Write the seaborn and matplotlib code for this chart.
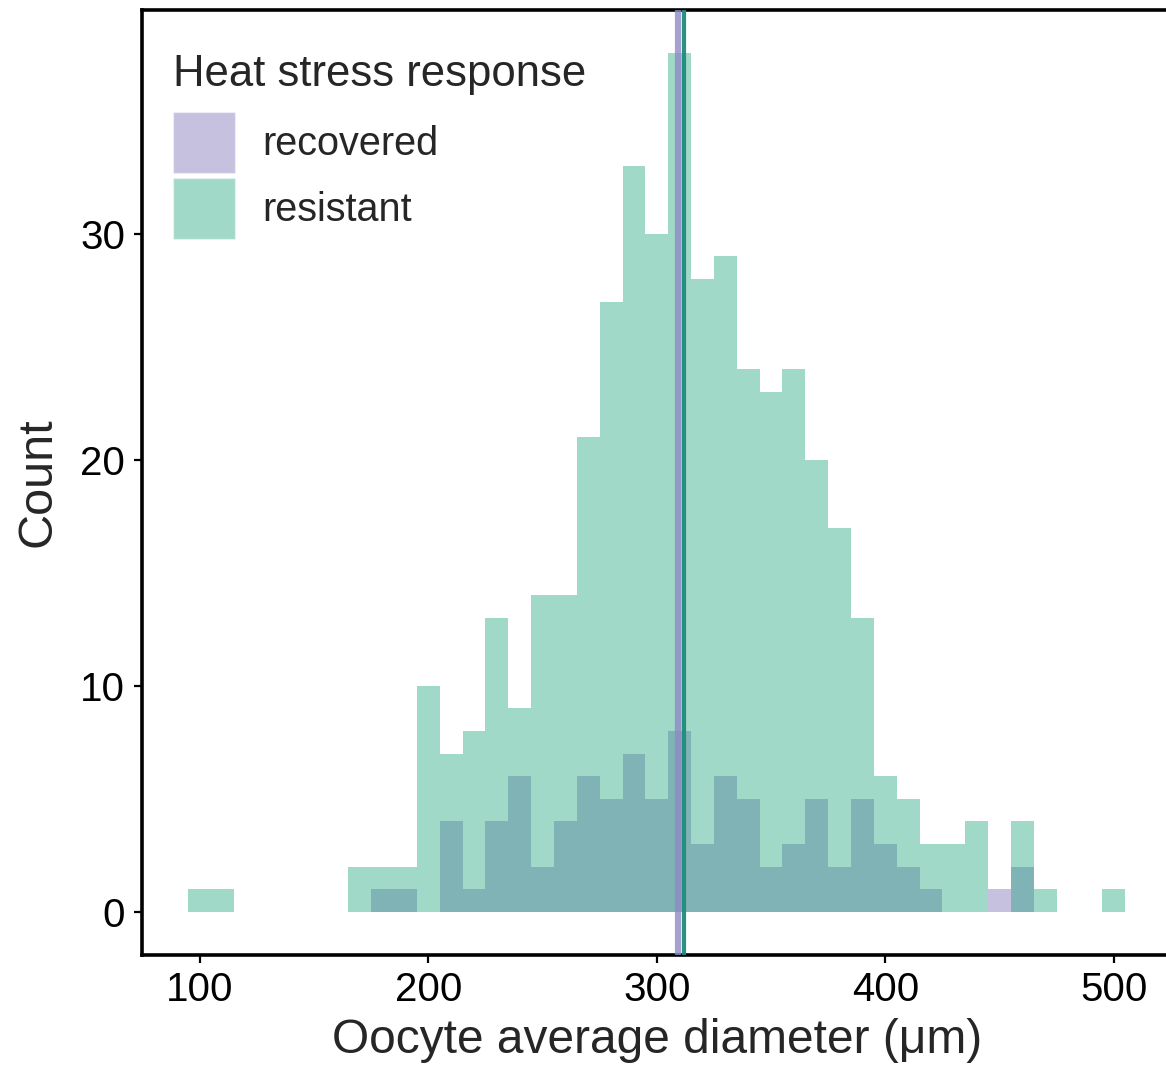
import numpy as np
import pandas as pd
import matplotlib
matplotlib.use("Agg")
import matplotlib.pyplot as plt
import seaborn as sns
from matplotlib.patches import Patch

# Bin centres in µm (bin width 10)
bin_centers = list(range(100, 510, 10))
resistant_counts = [1, 1, 0, 0, 0, 0, 0, 2, 2, 2,
                    10, 7, 8, 13, 9, 14, 14, 21, 27, 33,
                    30, 38, 28, 29, 24, 23, 24, 20, 17, 13,
                    6, 5, 3, 3, 4, 0, 4, 1, 0, 0, 1]
recovered_counts = [0, 0, 0, 0, 0, 0, 0, 0, 1, 1,
                    0, 4, 1, 4, 6, 2, 4, 6, 5, 7,
                    5, 8, 3, 6, 5, 2, 3, 5, 2, 5,
                    3, 2, 1, 0, 0, 1, 2, 0, 0, 0, 0]
groups = ["recovered", "resistant"]
group_means = [309.3, 311.8]
x_ticks = [100, 200, 300, 400, 500]
y_ticks = [0, 10, 20, 30]

palette = {"recovered": "#7066b1", "resistant": "#16a076"}
line_colors = {"recovered": "#8f8ac6", "resistant": "#1f8c7c"}
fill_alpha = 0.4

sns.set_theme(style="ticks")
plt.rcParams["font.family"] = ["Liberation Sans", "DejaVu Sans"]

df = pd.DataFrame({
    "diameter": bin_centers * 2,
    "count": recovered_counts + resistant_counts,
    "group": ["recovered"] * len(bin_centers) + ["resistant"] * len(bin_centers),
})

fig = plt.figure(figsize=(11.66, 10.8), dpi=100)
ax = fig.add_axes([0.1215, 0.1159, 0.8836, 0.8748])

# recovered first, resistant layered on top
for g in groups:
    sns.histplot(data=df[df["group"] == g], x="diameter", weights="count",
                 binwidth=10, binrange=(95, 505), color=palette[g],
                 alpha=fill_alpha, linewidth=0, ax=ax, legend=False)

for g, m in zip(groups, group_means):
    lw = 4.5 if g == "recovered" else 3
    a = 0.8 if g == "recovered" else 0.95
    ax.axvline(m, color=line_colors[g], lw=lw, alpha=a, zorder=3)

ax.set_xlim(74.5, 525.5)
ax.set_ylim(-1.9, 39.9)
ax.set_xticks(x_ticks)
ax.set_yticks(y_ticks)
ax.set_xlabel("Oocyte average diameter (μm)", fontsize=34.5, labelpad=6)
ax.set_ylabel("Count", fontsize=35, labelpad=14)
ax.tick_params(length=6, width=1.6, labelsize=29, pad=6, colors="black")

for s in ax.spines.values():
    s.set_visible(True)
    s.set_linewidth(2.6)
    s.set_color("black")

handles = [Patch(facecolor=palette[g], alpha=fill_alpha, label=g) for g in groups]
leg = ax.legend(handles=handles, title="Heat stress response",
                loc="upper left", bbox_to_anchor=(173 / 1166, 1 - 54 / 1080),
                bbox_transform=fig.transFigure, frameon=False, borderpad=0,
                borderaxespad=0, fontsize=28.5, title_fontsize=31.4,
                alignment="left", handlelength=1.57, handleheight=2.0,
                handletextpad=0.68, labelspacing=0.12)
# a bit more room between title and keys
leg._legend_box.sep = 12

fig.savefig("out.png", dpi=100)
